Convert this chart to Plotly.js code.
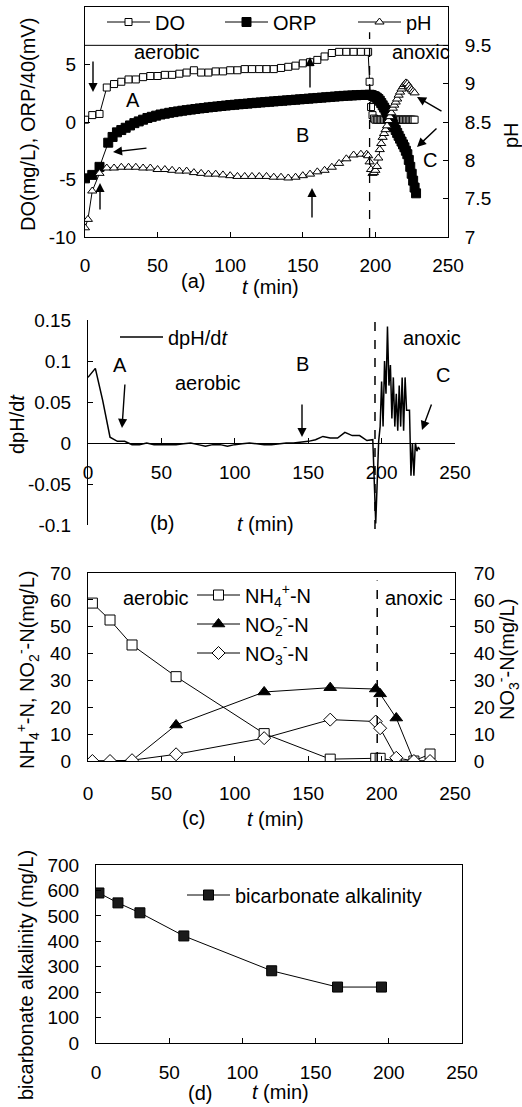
<!DOCTYPE html>
<html><head><meta charset="utf-8">
<script src="https://cdn.plot.ly/plotly-3.0.1.min.js"></script>
<style>html,body{margin:0;padding:0;background:#fff}#chart{width:522px;height:1107px}</style>
</head><body><div id="chart"></div>
<script>
// ---------- Panel (a) data ----------
const doTime = [0,5,10,15,20,25,30,35,40,45,50,55,60,65,70,75,80,85,90,95,100,105,110,115,120,125,130,135,140,145,150,155,160,165,170,175,180,185,190,195,196,197,198,199,200,201,202,203,204,205,206,207,208,209,210,211,212,213,214,215,216,217,218,219,220,221,222,223,224,225,226,227];
const doValue = [0.2,0.6,0.7,3.0,3.3,3.5,3.7,3.7,3.9,4.0,4.0,4.1,4.1,4.2,4.3,4.5,4.3,4.3,4.4,4.4,4.5,4.5,4.6,4.6,4.6,4.6,4.6,4.7,4.8,4.9,5.1,5.2,5.4,5.7,6.0,6.1,6.1,6.1,6.1,6.1,3.5,1.3,0.6,0.3,0.2,0.2,0.2,0.2,0.2,0.2,0.2,0.2,0.2,0.2,0.2,0.2,0.2,0.2,0.2,0.2,0.2,0.2,0.2,0.2,0.2,0.2,0.2,0.2,0.2,0.2,0.2,0.2];
const orpTime = [0,5,10,16,19,22,25,28,31,34,37,40,43,46,49,52,55,58,61,64,67,70,73,76,79,82,85,88,91,94,97,100,103,106,109,112,115,118,121,124,127,130,133,136,139,142,145,148,151,154,157,160,163,166,169,172,175,178,181,184,187,190,193,196,197,198,199,200,201,202,203,204,205,206,207,208,209,210,211,212,213,214,215,216,217,218,219,220,221,222,223,224,225,226,227,228];
const orpValue = [-4.9,-4.6,-3.9,-1.8,-1.3,-0.9,-0.7,-0.5,-0.3,-0.1,0.05,0.2,0.35,0.45,0.55,0.65,0.72,0.8,0.86,0.92,0.98,1.03,1.08,1.13,1.18,1.22,1.27,1.31,1.35,1.39,1.43,1.47,1.5,1.54,1.57,1.6,1.64,1.67,1.7,1.73,1.76,1.79,1.82,1.85,1.88,1.91,1.94,1.97,2.0,2.03,2.06,2.09,2.12,2.15,2.18,2.21,2.24,2.27,2.29,2.31,2.33,2.35,2.36,2.37,2.35,2.3,2.25,2.2,2.1,2.0,1.85,1.65,1.45,1.25,1.05,0.8,0.55,0.3,0.05,-0.2,-0.45,-0.7,-0.95,-1.2,-1.45,-1.7,-1.95,-2.2,-2.5,-2.8,-3.3,-3.9,-4.5,-5.1,-5.7,-6.2];
const phTime = [0,2,5,10,15,20,25,30,35,40,45,50,55,60,65,70,75,80,85,90,95,100,105,110,115,120,125,130,135,140,145,150,155,160,165,170,175,180,185,190,194,195,196,197,198,199,200,201,202,203,204,205,206,207,208,209,210,211,212,213,214,215,216,217,218,219,220,221,222,223,224,225,226,227];
const phValue = [7.12,7.23,7.6,7.83,7.9,7.9,7.91,7.91,7.91,7.9,7.9,7.88,7.88,7.87,7.86,7.86,7.84,7.83,7.82,7.82,7.81,7.8,7.79,7.79,7.79,7.79,7.79,7.78,7.78,7.77,7.78,7.8,7.82,7.85,7.87,7.91,7.96,8.02,8.07,8.08,8.08,8.06,7.98,7.88,7.83,7.84,7.87,7.92,8.03,8.14,8.22,8.3,8.35,8.4,8.45,8.52,8.57,8.62,8.68,8.72,8.76,8.8,8.85,8.89,8.93,8.96,8.99,9.01,9.0,8.97,8.94,8.92,8.9,8.88];
const aLeftTicks = [-10,-5,0,5];
const aLeftText = ['-10','-5','0','5'];
const aRightTicks = [7,7.5,8,8.5,9,9.5];
const tTicks = [0,50,100,150,200,250];

// ---------- Panel (b) data ----------
const dphTime = [0,5,10,15,20,25,30,35,40,45,50,55,60,65,70,75,80,85,90,95,100,105,110,115,120,125,130,135,140,145,150,155,160,165,170,175,180,185,190,194,196,198,199,200,201,202,203,204,205,206,207,208,209,210,211,212,213,214,215,216,217,218,219,220,221,222,223,224,225,226];
const dphValue = [0.080,0.091,0.052,0.007,0.002,0.002,-0.002,-0.002,0.0,-0.002,-0.002,-0.002,-0.002,-0.001,0.0,-0.002,-0.004,-0.002,-0.002,-0.004,-0.002,-0.001,0.0,-0.001,-0.002,-0.002,-0.001,0.0,0.0,0.001,0.002,0.004,0.008,0.006,0.006,0.013,0.009,0.009,0.003,0.004,-0.098,0.002,0.02,0.075,0.02,0.1,0.06,0.142,0.07,0.095,0.03,0.08,0.02,0.06,0.015,0.07,0.02,0.08,0.015,0.08,0.04,0.04,0.04,-0.04,0.0,-0.04,0.0,-0.01,-0.005,-0.008];
const bTicks = [-0.1,-0.05,0,0.05,0.1,0.15];
const bTickText = ['-0.1','-0.05','0','0.05','0.1','0.15'];

// ---------- Panel (c) data ----------
const nTime = [3,15,30,60,120,165,196,199,210,222,233];
const nh4 = [58.8,52.5,43.2,31.4,10.2,0.7,1.0,1.0,0.0,0.0,2.6];
const no2 = [0,0,0.2,13.4,25.7,27.3,26.8,25.0,16.0,0,0];
const no3 = [0,0,0.3,2.5,8.5,15.4,14.7,12.2,1.2,0,0];
const cTicks = [0,10,20,30,40,50,60,70];

// ---------- Panel (d) data ----------
const alkTime = [2,15,30,60,120,165,195];
const alkValue = [590,551,512,421,284,220,220];
const dTicks = [0,100,200,300,400,500,600,700];

const switchTime = 196;

// ---------- layout helpers (pixel -> paper) ----------
const W = 522, H = 1107;
const px = v => v / W;
const py = v => 1 - v / H;
const dx = (a, b) => [px(a), px(b)];
const dy = (top, bottom) => [py(bottom), py(top)];
const FONT = 'Liberation Sans, Arial, Helvetica, sans-serif';
const FS = 19;   // tick labels
const FT = 20;   // texts, titles, legends
const blk = '#000';

function axisBase(extra) {
  return Object.assign({
    showgrid: false, zeroline: false, showline: true, linecolor: blk, linewidth: 1,
    ticks: 'inside', ticklen: 5, tickcolor: blk, tickwidth: 1,
    tickfont: {family: FONT, size: FS, color: blk}, fixedrange: true
  }, extra);
}

const traces = [
  {x: doTime, y: doValue, name: 'DO', xaxis: 'x', yaxis: 'y', mode: 'lines+markers', legend: 'legend',
   line: {color: blk, width: 1}, marker: {symbol: 'square', size: 7, color: '#fff', line: {color: blk, width: 1}}},
  {x: orpTime, y: orpValue, name: 'ORP', xaxis: 'x', yaxis: 'y', mode: 'lines+markers', legend: 'legend5',
   line: {color: blk, width: 1}, marker: {symbol: 'square', size: 9, color: blk, line: {color: blk, width: 1}}},
  {x: phTime, y: phValue, name: 'pH', xaxis: 'x', yaxis: 'y2', mode: 'lines+markers', legend: 'legend6',
   line: {color: blk, width: 1}, marker: {symbol: 'triangle-up', size: 8, color: '#fff', line: {color: blk, width: 1}}},
  {x: dphTime, y: dphValue, name: 'dpH/d<i>t</i>', xaxis: 'x2', yaxis: 'y3', mode: 'lines', legend: 'legend2',
   line: {color: blk, width: 1.5}},
  {x: nTime, y: nh4, name: 'NH<sub>4</sub><sup>+</sup>-N', xaxis: 'x3', yaxis: 'y4', mode: 'lines+markers', legend: 'legend3',
   line: {color: blk, width: 1}, marker: {symbol: 'square', size: 10, color: '#fff', line: {color: blk, width: 1}}},
  {x: nTime, y: no2, name: 'NO<sub>2</sub><sup>-</sup>-N', xaxis: 'x3', yaxis: 'y4', mode: 'lines+markers', legend: 'legend3',
   line: {color: blk, width: 1}, marker: {symbol: 'triangle-up', size: 11, color: blk, line: {color: blk, width: 1}}},
  {x: nTime, y: no3, name: 'NO<sub>3</sub><sup>-</sup>-N', xaxis: 'x3', yaxis: 'y5', mode: 'lines+markers', legend: 'legend3',
   line: {color: blk, width: 1}, marker: {symbol: 'diamond', size: 10, color: '#fff', line: {color: blk, width: 1}}},
  {x: alkTime, y: alkValue, name: 'bicarbonate alkalinity', xaxis: 'x4', yaxis: 'y6', mode: 'lines+markers', legend: 'legend4',
   line: {color: blk, width: 1}, marker: {symbol: 'square', size: 10, color: '#1a1a1a', line: {color: blk, width: 1}}}
];

// panel geometry
const A = {x: dx(85, 448), y: dy(7, 237)};
const B = {x: dx(88, 455), y: dy(320, 525)};
const C = {x: dx(88, 455), y: dy(573, 761)};
const D = {x: dx(96, 462), y: dy(865, 1043)};
const bRange = [-0.1, 0.15];
const bZeroPos = B.y[0] + (0 - bRange[0]) / (bRange[1] - bRange[0]) * (B.y[1] - B.y[0]);

function legendAt(xp, yp, extra) {
  return Object.assign({x: px(xp), y: py(yp), xanchor: 'left', yanchor: 'middle', bgcolor: 'rgba(0,0,0,0)',
    borderwidth: 0, itemwidth: 43, font: {family: FONT, size: FT, color: blk}, tracegroupgap: 0}, extra || {});
}

function txt(text, xp, yp, extra) {
  return Object.assign({text: text, x: px(xp), y: py(yp), xref: 'paper', yref: 'paper', showarrow: false,
    xanchor: 'center', yanchor: 'middle', font: {family: FONT, size: FT, color: blk}}, extra || {});
}
function vtxt(text, xp, yp) {
  return txt(text, xp, yp, {textangle: -90});
}
function arrow(tipX, tipY, tailX, tailY) {
  return {text: '', x: px(tipX), y: py(tipY), xref: 'paper', yref: 'paper', showarrow: true,
    ax: tailX - tipX, ay: tailY - tipY, axref: 'pixel', ayref: 'pixel',
    arrowhead: 2, arrowsize: 1.3, arrowwidth: 1.4, arrowcolor: blk, standoff: 0, startstandoff: 0};
}

const layout = {
  width: W, height: H, margin: {l: 0, r: 0, t: 0, b: 0}, paper_bgcolor: '#fff', plot_bgcolor: 'rgba(0,0,0,0)',
  font: {family: FONT, size: FS, color: blk}, showlegend: true,
  // panel a
  xaxis: axisBase({domain: A.x, range: [0, 250], anchor: 'y', tickvals: tTicks, mirror: true, ticklabelstandoff: 11}),
  yaxis: axisBase({domain: A.y, range: [-10, 10], anchor: 'x', tickvals: aLeftTicks, ticktext: aLeftText, ticklabelstandoff: 4}),
  yaxis2: axisBase({domain: A.y, range: [7, 10], anchor: 'x', overlaying: 'y', side: 'right', tickvals: aRightTicks, ticklabelstandoff: 12}),
  // panel b
  xaxis2: axisBase({domain: B.x, range: [0, 250], anchor: 'free', position: bZeroPos, tickvals: tTicks, ticklabelstandoff: 12}),
  yaxis3: axisBase({domain: B.y, range: bRange, anchor: 'x2', tickvals: bTicks, ticktext: bTickText, ticklabelstandoff: 12}),
  // panel c
  xaxis3: axisBase({domain: C.x, range: [0, 250], anchor: 'y4', tickvals: tTicks, mirror: true, ticklabelstandoff: 15}),
  yaxis4: axisBase({domain: C.y, range: [0, 70], anchor: 'x3', tickvals: cTicks, ticklabelstandoff: 12}),
  yaxis5: axisBase({domain: C.y, range: [0, 70], anchor: 'x3', overlaying: 'y4', side: 'right', tickvals: cTicks, ticklabelstandoff: 14}),
  // panel d
  xaxis4: axisBase({domain: D.x, range: [0, 250], anchor: 'y6', tickvals: tTicks, mirror: true, ticklabelstandoff: 12}),
  yaxis6: axisBase({domain: D.y, range: [0, 700], anchor: 'x4', tickvals: dTicks, mirror: true, ticklabelstandoff: 12}),
  legend: legendAt(102, 22),
  legend5: legendAt(220, 22),
  legend6: legendAt(353, 22),
  legend2: legendAt(115, 337),
  legend3: legendAt(192, 624),
  legend4: legendAt(182, 895),
  shapes: [
    {type: 'line', xref: 'x domain', yref: 'y2', x0: 0, x1: 1, y0: 9.5, y1: 9.5, line: {color: blk, width: 1}},
    {type: 'line', xref: 'x', yref: 'y domain', x0: switchTime, x1: switchTime, y0: 0, y1: 0.89, line: {color: blk, width: 1.3, dash: 'dash'}},
    {type: 'line', xref: 'x2', yref: 'y3 domain', x0: switchTime - 0.5, x1: switchTime - 0.5, y0: -0.02, y1: 1, line: {color: blk, width: 1.5, dash: 'dash'}},
    {type: 'line', xref: 'x3', yref: 'y4 domain', x0: switchTime + 1, x1: switchTime + 1, y0: 0, y1: 0.96, line: {color: blk, width: 1.5, dash: 'dash'}}
  ],
  annotations: [
    // axis titles
    vtxt('DO(mg/L), ORP/40(mV)', 28, 125), vtxt('pH', 511, 135),
    vtxt('dpH/d<i>t</i>', 17, 424),
    vtxt('NH<sub>4</sub><sup>+</sup>-N, NO<sub>2</sub><sup>-</sup>-N(mg/L)', 27, 670), vtxt('NO<sub>3</sub><sup>-</sup>-N(mg/L)', 507, 660),
    vtxt('bicarbonate alkalinity (mg/L)', 26, 975),
    // panel a
    txt('aerobic', 167, 52), txt('anoxic', 421, 52), txt('A', 133, 100), txt('B', 302, 135), txt('C', 430, 160),
    txt('(a)', 193, 281), txt('<i>t</i> (min)', 270, 287),
    arrow(93, 92, 93, 60), arrow(310, 57, 310, 89), arrow(113, 152, 148, 148), arrow(100, 183, 100, 211),
    arrow(312, 188, 312, 219), arrow(417, 97, 443, 112), arrow(417, 147, 438, 127),
    // panel b
    txt('A', 120, 365), txt('aerobic', 208, 383), txt('B', 302, 364), txt('anoxic', 432, 338), txt('C', 443, 375),
    txt('(b)', 162, 523), txt('<i>t</i> (min)', 265, 524),
    arrow(122, 428, 125, 383), arrow(302, 437, 302, 403), arrow(422, 430, 432, 403),
    // panel c
    txt('aerobic', 156, 598), txt('anoxic', 414, 598), txt('(c)', 193, 818), txt('<i>t</i> (min)', 275, 819),
    // panel d
    txt('(d)', 200, 1093), txt('<i>t</i> (min)', 280, 1092)
  ]
};

Plotly.newPlot('chart', traces, layout, {displayModeBar: false, staticPlot: true});
</script></body></html>
